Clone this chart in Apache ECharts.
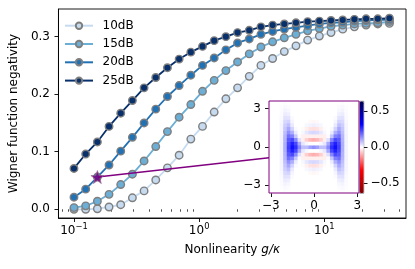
<!DOCTYPE html>
<html><head><meta charset="utf-8">
<script src="https://cdn.jsdelivr.net/npm/echarts@6/dist/echarts.min.js"></script>
<style>html,body{margin:0;padding:0;background:#fff}#c{width:415px;height:269px}</style>
</head><body><div id="c"></div>
<script>
// ---- data ----
const xVals = [0.1,0.12401,0.15378,0.19055,0.23623,0.29286,0.36308,0.45003,0.55786,0.69183,0.8577,1.06333,1.31826,1.63431,2.0263,2.51189,3.11424,3.8611,4.7863,5.9333,7.35642,9.12011,11.3068,14.0181,17.378,21.5443,26.7106,33.1131];
const s10dB = [0.000,0.000,0.001,0.004,0.008,0.020,0.032,0.051,0.072,0.094,0.122,0.144,0.169,0.192,0.211,0.231,0.250,0.262,0.274,0.284,0.294,0.301,0.307,0.313,0.317,0.320,0.322,0.323];
const s15dB = [0.003,0.006,0.014,0.026,0.043,0.061,0.084,0.109,0.135,0.160,0.182,0.205,0.224,0.241,0.256,0.270,0.282,0.291,0.298,0.304,0.310,0.314,0.318,0.320,0.322,0.323,0.324,0.326];
const s20dB = [0.021,0.035,0.056,0.077,0.101,0.125,0.150,0.174,0.196,0.215,0.233,0.250,0.263,0.277,0.289,0.296,0.304,0.309,0.313,0.316,0.319,0.322,0.324,0.325,0.327,0.328,0.329,0.329];
const s25dB = [0.071,0.096,0.117,0.144,0.167,0.189,0.211,0.229,0.246,0.261,0.273,0.283,0.293,0.300,0.307,0.311,0.317,0.320,0.322,0.324,0.326,0.327,0.328,0.329,0.330,0.331,0.331,0.332];
const seriesNames = ['10dB','15dB','20dB','25dB'];
const starPoint = [0.15378, 0.056];
const insetLinkY = -0.84;
const xMajor = [0.1, 1, 10];
const xMinor = [0.08,0.09,0.2,0.3,0.4,0.5,0.6,0.7,0.8,0.9,2,3,4,5,6,7,8,9,20,30,40];
const yTicks = [0, 0.1, 0.2, 0.3];
const insetTicks = [-3, 0, 3];
const cbarTicks = [-0.5, 0, 0.5];
// Wigner function, one quadrant (rows: |p| from 0 upward, cols: |x| from 0 outward)
const wigQ = [
 [0.14,0.12,0.08,0.08,0.15,0.26,0.30,0.24,0.10,0.015,0,0,0],
 [0.00,0.00,0.01,0.03,0.11,0.23,0.28,0.23,0.10,0.015,0,0,0],
 [-0.10,-0.09,-0.06,-0.02,0.04,0.15,0.23,0.21,0.095,0.015,0,0,0],
 [-0.02,-0.02,-0.02,-0.02,0.005,0.07,0.16,0.18,0.09,0.015,0,0,0],
 [0.05,0.045,0.03,0.01,0,0.025,0.10,0.14,0.08,0.014,0,0,0],
 [-0.04,-0.035,-0.02,-0.005,0,0.008,0.055,0.11,0.07,0.013,0,0,0],
 [0.02,0.015,0.01,0,0,0,0.028,0.08,0.06,0.012,0,0,0],
 [-0.01,-0.008,0,0,0,0,0.012,0.055,0.048,0.01,0,0,0],
 [0,0,0,0,0,0,0.005,0.035,0.036,0.008,0,0,0],
 [0,0,0,0,0,0,0,0.02,0.024,0.006,0,0,0],
 [0,0,0,0,0,0,0,0.01,0.014,0.004,0,0,0],
 [0,0,0,0,0,0,0,0.004,0.007,0.002,0,0,0],
 [0,0,0,0,0,0,0,0,0.003,0,0,0,0]
];

// ---- build ----
const FONT = 'DejaVu Sans';
const FS = 12;
const colors = ['#c6dbef','#6baed6','#2171b5','#08306b'];
const allSeries = [s10dB, s15dB, s20dB, s25dB];
const minus = s => String(s).replace('-', '\u2212');
const supFmt = v => { const e = Math.round(Math.log10(v)); return '{b|10}{s|' + (e < 0 ? '\u2212' + (-e) : e) + '}'; };
const N = wigQ.length * 2 - 1, C = wigQ.length - 1;
const idx = Array.from({length: N}, (_, i) => i);
const heat = [];
for (let yi = 0; yi < N; yi++) for (let xi = 0; xi < N; xi++) heat.push([xi, yi, wigQ[Math.abs(yi - C)][Math.abs(xi - C)]]);

const blackLine = {color:'#000', width:0.9};
const lbl = {fontSize:FS, color:'#000', fontFamily:FONT};
const lineSeries = allSeries.map((d, k) => ({
  type:'line', name: seriesNames[k], xAxisIndex:0, yAxisIndex:0,
  data: xVals.map((x, i) => [x, d[i]]),
  symbol:'circle', symbolSize:7.5, z:2,
  lineStyle:{color: colors[k], width:1.8},
  itemStyle:{color: colors[k], borderColor:'#7f7f7f', borderWidth:1.4},
  emphasis:{disabled:true}
}));

const option = {
  animation:false,
  textStyle:{fontFamily: FONT},
  grid:[
    {left:55, top:9, right:9, bottom:51, show:true, borderColor:'#000', borderWidth:0.9, backgroundColor:'transparent'},
    {left:269, top:101, width:90, height:92, show:true, backgroundColor:'#fff', borderWidth:0},
    {left:269, top:101, width:90, height:92, show:true, z:10, backgroundColor:'rgba(0,0,0,0)', borderColor:'#800080', borderWidth:1},
    {left:359.5, top:101, width:4, height:92, show:false}
  ],
  xAxis:[
    {gridIndex:0, type:'log', logBase:10, min:0.0752, max:44.9, position:'bottom',
     axisLine:{show:true, onZero:false, lineStyle:blackLine},
     axisTick:{show:true, customValues:xMajor, length:4, lineStyle:blackLine},
     axisLabel:{customValues:xMajor, formatter:supFmt, margin:4.5,
       rich:{b:{fontSize:FS, fontFamily:FONT, color:'#000', lineHeight:14, padding:[3,0,0,0], verticalAlign:'bottom'},
             s:{fontSize:8.4, fontFamily:FONT, color:'#000', lineHeight:10, verticalAlign:'top'}}},
     splitLine:{show:false}, minorTick:{show:false},
     name:'{n|Nonlinearity }{i|g/\u03ba}', nameLocation:'middle', nameGap:26,
     nameTextStyle:{rich:{n:lbl, i:Object.assign({fontStyle:'italic'}, lbl)}}},
    {gridIndex:0, type:'log', logBase:10, min:0.0752, max:44.9, position:'bottom',
     axisLine:{show:false}, axisLabel:{show:false}, splitLine:{show:false},
     axisTick:{show:true, customValues:xMinor, length:2.4, lineStyle:{color:'#000', width:0.7}}},
    {gridIndex:1, type:'category', data:idx, show:false},
    {gridIndex:2, type:'value', min:-3.125, max:3.125, splitLine:{show:false},
     axisLine:{show:false, onZero:false},
     axisTick:{show:true, customValues:insetTicks, length:4, lineStyle:blackLine},
     axisLabel:Object.assign({customValues:insetTicks, formatter:v => minus(v), margin:7}, lbl)},
    {gridIndex:3, type:'value', min:0, max:1, show:false}
  ],
  yAxis:[
    {gridIndex:0, type:'value', min:-0.0151, max:0.348,
     axisLine:{show:true, onZero:false, lineStyle:blackLine},
     axisTick:{show:true, customValues:yTicks, length:4, lineStyle:blackLine},
     axisLabel:Object.assign({customValues:yTicks, formatter:v => v.toFixed(1), margin:8.5}, lbl),
     splitLine:{show:false},
     name:'Wigner function negativity', nameLocation:'middle', nameGap:33,
     nameTextStyle:lbl},
    {gridIndex:1, type:'category', data:idx, show:false},
    {gridIndex:2, type:'value', min:-3.6, max:3.6, splitLine:{show:false},
     axisLine:{show:false, onZero:false},
     axisTick:{show:true, customValues:insetTicks, length:4, lineStyle:blackLine},
     axisLabel:Object.assign({customValues:insetTicks, formatter:v => minus(v), margin:8}, lbl)},
    {gridIndex:3, type:'value', position:'right', min:-0.64, max:0.64, splitLine:{show:false},
     axisLine:{show:false, onZero:false},
     axisTick:{show:true, customValues:cbarTicks, length:4, lineStyle:blackLine},
     axisLabel:Object.assign({customValues:cbarTicks, formatter:v => minus(v.toFixed(1)), margin:7}, lbl)}
  ],
  legend:{show:true, orient:'vertical', left:64, top:18.7, padding:0, itemWidth:28, itemHeight:8, itemGap:4.3,
    data:seriesNames, selectedMode:false,
    textStyle:{fontFamily:FONT, fontSize:FS, color:'#000', lineHeight:14, padding:[0,0,0,4.5]}},
  visualMap:{type:'continuous', seriesIndex:5, dimension:2, min:-0.64, max:0.64,
    inRange:{color:['#800000','#ff0000','#ffffff','#0000ff','#00004d']},
    show:true, calculable:false, hoverLink:false, left:359.5, top:101, itemWidth:4, itemHeight:92,
    padding:0, borderColor:'#333', borderWidth:0.5, text:null},
  series: lineSeries.concat([
    {type:'scatter', xAxisIndex:0, yAxisIndex:0, data:[starPoint], z:5,
     symbol:'path://M50,0 L61.8,35.1 L98.1,35.1 L68.8,56.7 L79.4,91 L50,70 L20.6,91 L31.2,56.7 L1.9,35.1 L38.2,35.1 Z',
     symbolSize:13, itemStyle:{color:'#800080', borderColor:'#8c6c8c', borderWidth:0.8}, emphasis:{disabled:true}},
    {type:'heatmap', xAxisIndex:2, yAxisIndex:1, data:heat, emphasis:{disabled:true}, itemStyle:{borderWidth:0}}
  ])
};

const chart = echarts.init(document.getElementById('c'), null, {renderer:'canvas'});
chart.setOption(option);
const p1 = chart.convertToPixel({xAxisIndex:0, yAxisIndex:0}, starPoint);
const p2 = chart.convertToPixel({gridIndex:2}, [-3.125, insetLinkY]);
chart.setOption({graphic:[{type:'line', z:3, shape:{x1:p1[0], y1:p1[1], x2:p2[0], y2:p2[1]}, style:{stroke:'#800080', lineWidth:1.5}}]});
</script></body></html>
